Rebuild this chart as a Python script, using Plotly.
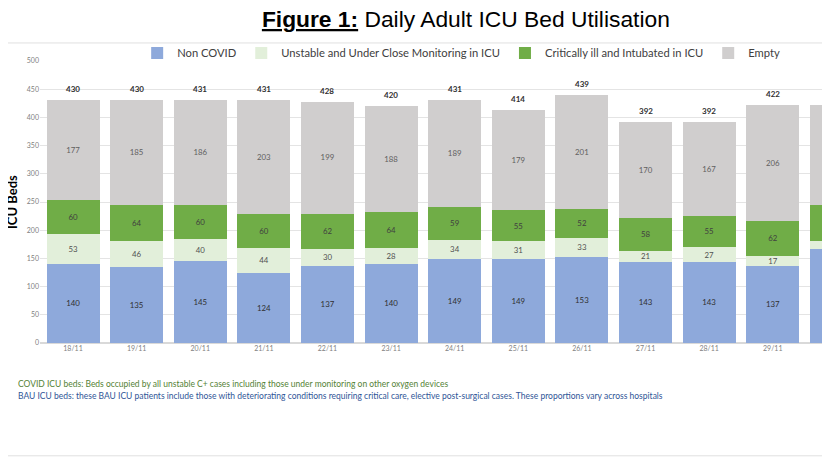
import plotly.graph_objects as go

dates = ["18/11", "19/11", "20/11", "21/11", "22/11", "23/11", "24/11",
         "25/11", "26/11", "27/11", "28/11", "29/11", "30/11"]
non_covid = [140, 135, 145, 124, 137, 140, 149, 149, 153, 143, 143, 137, 167]
unstable = [53, 46, 40, 44, 30, 28, 34, 31, 33, 21, 27, 17, 13]
critical = [60, 64, 60, 60, 62, 64, 59, 55, 52, 58, 55, 62, 65]
empty = [177, 185, 186, 203, 199, 188, 189, 179, 201, 170, 167, 206, 177]
totals = [430, 430, 431, 431, 428, 420, 431, 414, 439, 392, 392, 422, 422]
y_ticks = [0, 50, 100, 150, 200, 250, 300, 350, 400, 450, 500]
# the last bar is cut by the right edge of the picture, so its labels are not shown
n_labelled = 12

FONT = "Lato"
W, H = 822, 460
series = [
    ("Non COVID", non_covid, "#8EA9DB", "#303030"),
    ("Unstable and Under Close Monitoring in ICU", unstable, "#E2EFDA", "#505050"),
    ("Critically ill and Intubated in ICU", critical, "#70AD47", "#404040"),
    ("Empty", empty, "#D0CECE", "#606060"),
]

fig = go.Figure()
for name, vals, color, tcol in series:
    labels = [str(v) if i < n_labelled else "" for i, v in enumerate(vals)]
    fig.add_trace(go.Bar(
        x=dates, y=vals, name=name, marker_color=color, marker_line_width=0,
        text=labels, textposition="inside", insidetextanchor="middle",
        textfont=dict(size=8.5, color=tcol, family=FONT), cliponaxis=True,
        textangle=0,
    ))

for d, t in list(zip(dates, totals))[:n_labelled]:
    fig.add_annotation(x=d, y=t, text=f"<b>{t}</b>", showarrow=False,
                       yanchor="bottom", yshift=4,
                       font=dict(size=8, color="#303030", family=FONT))

fig.update_layout(
    width=W, height=H,
    barmode="stack", bargap=0.167,
    margin=dict(l=32, r=0, t=53, b=125, autoexpand=False),
    paper_bgcolor="white", plot_bgcolor="white",
    font=dict(family=FONT, color="#595959"),
    uniformtext=dict(minsize=6, mode="show"),
    title=dict(
        text="<b><u>Figure 1:</u></b> Daily Adult ICU Bed Utilisation",
        x=0.557, xref="container", xanchor="center",
        y=1 - 11 / H, yref="container", yanchor="middle",
        font=dict(family="Liberation Sans", size=22.8, color="black"),
    ),
    legend=dict(
        orientation="h", x=0.123, xanchor="left",
        yref="container", y=1 - 45 / H, yanchor="middle",
        font=dict(size=11.2, color="#404040", family=FONT),
        itemwidth=30, traceorder="normal", bgcolor="rgba(0,0,0,0)",
    ),
    xaxis=dict(
        range=[-0.519, 11.90], showline=False, ticks="", automargin=False,
        tickfont=dict(size=7, color="#7f7f7f", family=FONT),
    ),
    yaxis=dict(
        range=[0, 500], tickvals=y_ticks, showgrid=True, automargin=False,
        gridcolor="#E4E4E4", gridwidth=1, zeroline=True, zerolinecolor="#D9D9D9",
        tickfont=dict(size=7, color="#7f7f7f", family=FONT), ticklen=0,
    ),
)

fig.add_annotation(text="<b>ICU Beds</b>", xref="paper", yref="paper",
                   x=-0.0354, y=0.5, textangle=-90, showarrow=False,
                   xanchor="center", yanchor="middle",
                   font=dict(size=13, color="black", family=FONT))

fig.add_shape(type="rect", xref="paper", yref="paper",
              x0=-0.06, x1=1.05, y0=-0.40, y1=1.064,
              line=dict(color="#E0E0E0", width=1), fillcolor="rgba(0,0,0,0)", layer="below")

fig.add_annotation(
    text="COVID ICU beds: Beds occupied by all unstable C+ cases including those under monitoring on other oxygen devices",
    xref="paper", yref="paper", x=-0.031, y=-0.145, xanchor="left", yanchor="middle",
    showarrow=False, font=dict(size=8.5, color="#548235", family=FONT))
fig.add_annotation(
    text="BAU ICU beds: these BAU ICU patients include those with deteriorating conditions requiring critical care, elective post-surgical cases. These proportions vary across hospitals",
    xref="paper", yref="paper", x=-0.031, y=-0.187, xanchor="left", yanchor="middle",
    showarrow=False, font=dict(size=8.5, color="#2F5597", family=FONT))

fig.write_html("out.html")
